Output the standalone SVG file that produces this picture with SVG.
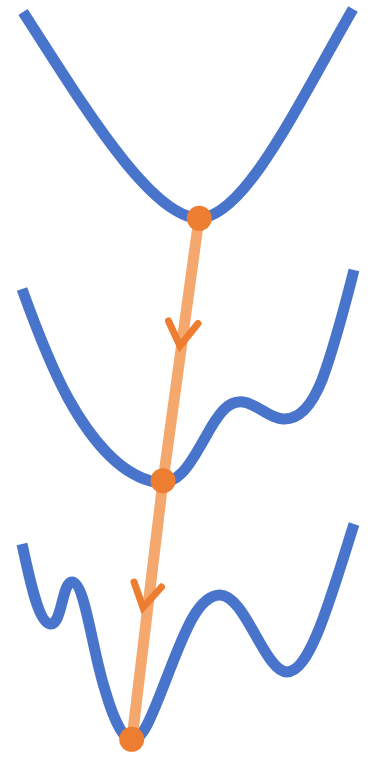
<svg xmlns="http://www.w3.org/2000/svg" width="373" height="757" viewBox="0 0 373 757">
<style>
.curve{fill:none;stroke:#4874CB;stroke-width:11;stroke-linejoin:round}
.path{fill:none;stroke:#F4A86E;stroke-width:11;stroke-linejoin:round}
.chev{fill:none;stroke:#ED7D31;stroke-width:7;stroke-linecap:round;stroke-linejoin:miter;stroke-miterlimit:10}
.dot{fill:#ED7D31}
</style>
<rect width="373" height="757" fill="#FFFFFF"/>
<g id="landscape-1">
<path class="curve" d="M23,12 C80,100 150,218 199,218 C245,218 300,100 353,9"/>
</g>
<g id="landscape-2">
<path class="curve" d="M22,289 C35,325 50,365 68,398 C90,438 120,475 155,482 C180,487 192,460 205,438 C218,414 228,400 243,402 C258,404 268,418 283,419 C300,420 312,405 322,380 C335,345 345,305 354,270"/>
</g>
<g id="landscape-3">
<path class="curve" d="M22,544 C30,580 38,622 50,624 C62,626 62,582 72,582 C85,582 92,650 105,690 C115,725 125,740 132,740 C142,740 150,720 160,695 C180,645 195,595 220,595 C245,595 265,672 287,672 C310,672 330,600 354,524"/>
</g>
<g id="connectors">
<polyline class="path" points="199,218 163,481 132,739"/>
<polyline class="chev" points="168.5,321 180,346 198,323.5"/>
<polyline class="chev" points="134,582 143,607.5 161.5,587"/>
</g>
<g id="point-1"><circle class="dot" cx="199.3" cy="218.3" r="12.5"/></g>
<g id="point-2"><circle class="dot" cx="163" cy="480.7" r="12.5"/></g>
<g id="point-3"><circle class="dot" cx="131.7" cy="739.3" r="12.5"/></g>
</svg>
